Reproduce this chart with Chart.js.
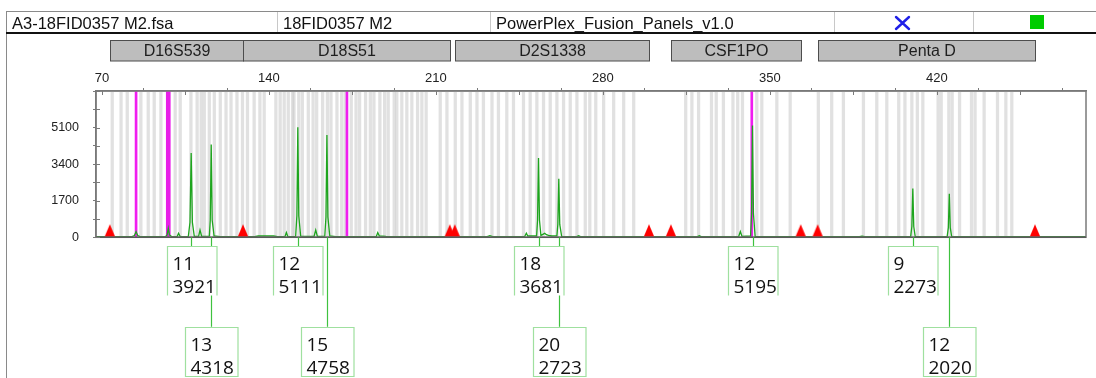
<!DOCTYPE html>
<html>
<head>
<meta charset="utf-8">
<script src="https://cdn.jsdelivr.net/npm/chart.js@4.4.1/dist/chart.umd.min.js"></script>
<style>
  html, body { margin: 0; padding: 0; background: #fff; }
  #wrap { position: relative; width: 1096px; height: 378px; overflow: hidden; }
  #frame { position: absolute; left: 6px; top: 12px; width: 1200px; height: 400px; border-left: 1.5px solid #8a8a8a; }
  #hdr { position: absolute; left: 6px; top: 11px; width: 1200px; height: 20px;
         border-top: 1.5px solid #8a8a8a; border-bottom: 2px solid #111;
         font: 16.5px "Liberation Sans", Arial, sans-serif; color: #111; }
  .cell { position: absolute; top: 0; height: 20px; line-height: 22px; white-space: nowrap; }
  .div { position: absolute; top: 0; height: 20px; width: 1px; background: #c8c8c8; }
  canvas { position: absolute; left: 0; top: 0; }
</style>
</head>
<body>
<div id="wrap">
  <canvas id="egram" width="1096" height="378"></canvas>
  <div id="frame"></div>
  <div id="hdr">
    <div class="cell" style="left:6px">A3-18FID0357 M2.fsa</div>
    <div class="div" style="left:271px"></div>
    <div class="cell" style="left:277px">18FID0357 M2</div>
    <div class="div" style="left:484px"></div>
    <div class="cell" style="left:490px">PowerPlex_Fusion_Panels_v1.0</div>
    <div class="div" style="left:828px"></div>
    <svg style="position:absolute;left:888px;top:3px" width="17" height="16" viewBox="0 0 17 16">
      <path d="M2 2 L15 14 M15 2 L2 14" stroke="#1f1fe8" stroke-width="2.4" stroke-linecap="round"/>
    </svg>
    <div class="div" style="left:967px"></div>
    <div style="position:absolute;left:1024px;top:3px;width:14px;height:14px;background:#00cc00"></div>
  </div>
</div>
<script>
// Loci of the green dye panel (size range in bp)
const locusNames = ['D16S539', 'D18S51', 'D2S1338', 'CSF1PO', 'Penta D'];
const locusStart = [73.3, 129.1, 217.9, 308.5, 370.0];
const locusEnd   = [129.1, 215.8, 299.3, 362.9, 461.1];

// Red locus-boundary markers on the baseline (bp)
const markerBp = [73.3, 129.1, 215.8, 217.9, 299.3, 308.5, 362.9, 370.0, 461.1];

// Allele bins (bp)
const binBp = [
  74.3, 78.0, 80.6, 86.3, 89.4, 91.9, 94.7, 100.7, 102.8, 107.3, 109.9, 111.6, 112.9,
  115.0, 117.1, 119.6, 122.0, 124.1, 126.6, 128.9, 131.0, 133.8, 136.2, 138.0,
  142.9, 144.7, 146.4, 148.1, 149.9, 150.5, 152.5, 154.0, 156.5, 158.5, 160.0, 162.5,
  164.5, 166.0, 168.5, 170.5, 172.0, 174.5, 176.5, 178.0, 180.5, 182.5, 184.0, 186.5,
  188.5, 190.0, 192.5, 193.6, 195.7, 197.8, 199.9, 202.3, 204.1, 205.9,
  211.8, 214.6, 218.1, 220.9, 224.4, 227.2, 229.9, 233.5, 236.2, 239.7, 242.5,
  246.7, 249.5, 252.3, 255.1, 257.9, 260.7, 263.5, 266.3, 269.1, 272.6, 274.5, 277.0,
  280.3, 284.5, 288.7, 292.9, 314.7, 317.3, 320.1, 325.5, 327.5, 330.5, 334.5, 336.5,
  338.5, 344.5, 346.6, 352.9, 358.5, 370.3, 375.9, 380.8, 389.2, 394.8, 399.0, 404.0,
  406.6, 409.5, 411.8, 414.1, 420.5, 421.8, 425.0, 426.4, 429.5, 434.5, 436.0, 439.8,
  445.4, 448.9, 451.4
];

// Off-scale / pull-up flags (bp)
const flagThinBp = [84.3, 172.7, 342.4];
const flagWideBp = [97.8];

// Green dye signal (bp, RFU)
const traceBp = [
  67.5, 72.0, 82.6, 83.6, 84.3, 85.0, 86.0, 96.6, 97.3, 97.8, 98.3, 99.2, 101.5, 102.1, 102.8,
  106.2, 106.9, 107.4, 107.9, 108.7, 110.5, 111.1, 111.8, 115.0, 115.4, 115.8, 116.2, 117.0,
  119.5, 134.0, 135.5, 142.0, 143.5, 146.7, 147.3, 147.9, 151.2, 151.7, 152.1, 152.5, 153.3,
  158.9, 159.6, 160.3, 163.4, 163.9, 164.3, 164.7, 165.5, 168.0, 185.0, 185.6, 186.3, 189.0,
  194.0, 231.5, 232.6, 233.8, 247.2, 247.9, 248.5, 252.2, 252.6, 253.0, 253.4, 254.0, 255.0,
  255.6, 256.3, 257.2, 258.5, 260.7, 261.1, 261.5, 261.9, 262.7, 269.0, 269.8, 270.6, 319.6,
  320.4, 321.2, 336.9, 337.6, 338.3, 341.9, 342.3, 342.7, 343.1, 343.8, 387.5, 388.6, 389.7,
  409.0, 409.5, 409.9, 410.3, 410.9, 424.3, 424.8, 425.2, 425.6, 426.2, 482.5
];
const traceRfu = [
  25, 25, 30, 80, 265, 80, 30, 30, 110, 420, 110, 35, 35, 190, 35,
  40, 700, 3921, 700, 45, 45, 340, 45, 50, 800, 4318, 800, 60,
  30, 30, 60, 60, 30, 30, 220, 35, 45, 1000, 5111, 1000, 50,
  40, 340, 45, 50, 950, 4758, 950, 60, 35, 35, 220, 60, 40,
  30, 30, 80, 30, 40, 190, 60, 60, 800, 3681, 800, 90, 150,
  190, 120, 90, 60, 70, 600, 2723, 600, 40, 30, 70, 30, 30,
  70, 30, 35, 265, 40, 60, 1100, 5195, 1100, 40, 30, 55, 30,
  35, 500, 2273, 500, 35, 35, 450, 2020, 450, 35, 25
];

// Called alleles: name, peak size (bp), height (RFU), label row
const alleleName = ['11', '13', '12', '15', '18', '20', '12', '9', '12'];
const alleleBp   = [107.4, 115.8, 152.1, 164.3, 253.0, 261.5, 342.7, 409.9, 425.2];
const alleleRfu  = [3921, 4318, 5111, 4758, 3681, 2723, 5195, 2273, 2020];
const alleleRow  = [0, 1, 0, 1, 0, 1, 0, 0, 1];

// Axis settings
const X_MIN = 67.5, X_MAX = 482.5, X_STEP = 35, X_LABEL_EVERY = 70;
const Y_MAX = 6800, Y_STEP = 850, Y_LABEL_EVERY = 1700;

// Red triangle glyph sitting on its anchor point
function makeTriangle() {
  const c = document.createElement('canvas');
  c.width = 12; c.height = 28;
  const g = c.getContext('2d');
  g.fillStyle = '#ff0000';
  g.beginPath();
  g.moveTo(6, 1); g.lineTo(11.5, 14); g.lineTo(0.5, 14); g.closePath();
  g.fill();
  return c;
}

const lociPlugin = {
  id: 'loci',
  afterDraw(chart) {
    const ctx = chart.ctx, x = chart.scales.x;
    ctx.save();
    ctx.font = '16px "Liberation Sans", Arial, sans-serif';
    ctx.textAlign = 'center';
    ctx.textBaseline = 'middle';
    locusNames.forEach((name, i) => {
      const x1 = Math.round(x.getPixelForValue(locusStart[i])) + 0.5;
      const x2 = Math.round(x.getPixelForValue(locusEnd[i])) + 0.5;
      ctx.fillStyle = '#bdbdbd';
      ctx.fillRect(x1, 40.5, x2 - x1, 20.5);
      ctx.strokeStyle = '#4d4d4d';
      ctx.lineWidth = 1;
      ctx.strokeRect(x1, 40.5, x2 - x1, 20.5);
      ctx.fillStyle = '#1e1e1e';
      ctx.fillText(name, (x1 + x2) / 2, 51.5);
    });
    ctx.restore();
  }
};

const framePlugin = {
  id: 'frame',
  afterDatasetsDraw(chart) {
    const ctx = chart.ctx, a = chart.chartArea;
    ctx.save();
    ctx.strokeStyle = '#7a7a7a';
    ctx.lineWidth = 1.5;
    ctx.strokeRect(a.left, a.top, a.right - a.left, a.bottom - a.top);
    ctx.strokeStyle = '#5a5a5a';
    ctx.beginPath(); ctx.moveTo(a.left, a.bottom); ctx.lineTo(a.right, a.bottom); ctx.stroke();
    // inner halves of the tick marks
    const x = chart.scales.x, y = chart.scales.y;
    ctx.lineWidth = 1;
    ctx.strokeStyle = '#7a7a7a';
    x.ticks.forEach(t => {
      const px = Math.round(x.getPixelForValue(t.value)) + 0.5;
      ctx.beginPath(); ctx.moveTo(px, a.top); ctx.lineTo(px, a.top + 4); ctx.stroke();
    });
    y.ticks.forEach(t => {
      const py = Math.round(y.getPixelForValue(t.value)) + 0.5;
      ctx.beginPath(); ctx.moveTo(a.left, py); ctx.lineTo(a.left + 4, py); ctx.stroke();
    });
    ctx.restore();
  }
};

const allelePlugin = {
  id: 'alleles',
  afterDraw(chart) {
    const ctx = chart.ctx, x = chart.scales.x, a = chart.chartArea;
    const rowTop = [a.bottom + 9, a.bottom + 89.5];
    const boxH = 49;
    ctx.save();
    // connectors
    ctx.strokeStyle = '#3fc23f';
    ctx.lineWidth = 1.2;
    alleleBp.forEach((bp, i) => {
      const px = Math.round(x.getPixelForValue(bp)) + 0.5;
      ctx.beginPath(); ctx.moveTo(px, a.bottom); ctx.lineTo(px, rowTop[alleleRow[i]]); ctx.stroke();
    });
    // boxes
    alleleBp.forEach((bp, i) => {
      const px = x.getPixelForValue(bp);
      const r = alleleRow[i];
      const left = Math.round(px - (r === 0 ? 24.5 : 26)) + 0.5;
      const w = r === 0 ? 49.5 : 52.5;
      const top = Math.round(rowTop[r]) + 0.5;
      ctx.fillStyle = '#ffffff';
      ctx.fillRect(left, top, w, boxH);
      ctx.strokeStyle = '#9fe09f';
      ctx.lineWidth = 1.2;
      ctx.beginPath();
      ctx.moveTo(left, top + boxH);
      ctx.lineTo(left, top);
      ctx.lineTo(left + w, top);
      ctx.lineTo(left + w, top + boxH);
      if (r === 1) ctx.closePath();
      ctx.stroke();
      ctx.fillStyle = '#111';
      ctx.font = '19px "Open Sans", sans-serif';
      ctx.textAlign = 'left';
      ctx.textBaseline = 'alphabetic';
      ctx.fillText(alleleName[i], left + 5, top + 23.5);
      ctx.fillText(String(alleleRfu[i]), left + 5, top + 46.5);
    });
    ctx.restore();
  }
};

new Chart(document.getElementById('egram'), {
  type: 'bar',
  data: {
    datasets: [
      {
        type: 'bar', label: 'bins', order: 4, grouped: false,
        data: binBp.map(v => ({ x: v, y: Y_MAX })),
        backgroundColor: 'rgba(200,200,200,0.55)', borderWidth: 0, barThickness: 2.6
      },
      {
        type: 'bar', label: 'flags', order: 3, grouped: false,
        data: flagThinBp.map(v => ({ x: v, y: Y_MAX })),
        backgroundColor: '#f01ef0', borderWidth: 0, barThickness: 2
      },
      {
        type: 'bar', label: 'flags wide', order: 3, grouped: false,
        data: flagWideBp.map(v => ({ x: v, y: Y_MAX })),
        backgroundColor: '#e81ee8', borderWidth: 0, barThickness: 4
      },
      {
        type: 'line', label: 'signal', order: 2,
        data: traceBp.map((v, i) => ({ x: v, y: traceRfu[i] })),
        borderColor: '#1ea51e', borderWidth: 1.3, pointRadius: 0, tension: 0, fill: false
      },
      {
        type: 'scatter', label: 'markers', order: 1, clip: false,
        data: markerBp.map(v => ({ x: v, y: 0 })),
        pointStyle: makeTriangle(), pointRadius: 6
      }
    ]
  },
  options: {
    responsive: false,
    animation: false,
    devicePixelRatio: 1,
    layout: { padding: { top: 0, left: 0, right: 10, bottom: 140.7 } },
    plugins: { legend: { display: false }, tooltip: { enabled: false } },
    scales: {
      x: {
        type: 'linear', position: 'top', min: X_MIN, max: X_MAX, offset: false,
        afterFit(s) { s.height = 91; },
        grid: { drawOnChartArea: false, tickLength: 3, color: '#7a7a7a' },
        border: { color: '#7a7a7a', width: 1.5 },
        ticks: {
          stepSize: X_STEP, includeBounds: false, autoSkip: false, maxRotation: 0, padding: 2,
          color: '#222', font: { family: '"Liberation Sans", Arial, sans-serif', size: 13 },
          callback: v => (v % X_LABEL_EVERY === 0 ? String(v) : '')
        }
      },
      y: {
        min: 0, max: Y_MAX,
        afterFit(s) { s.width = 96; },
        grid: { drawOnChartArea: false, tickLength: 3, color: '#7a7a7a' },
        border: { color: '#7a7a7a', width: 1.5 },
        ticks: {
          stepSize: Y_STEP, padding: 14, color: '#222',
          font: { family: '"Liberation Sans", Arial, sans-serif', size: 12.5 },
          callback: v => (v % Y_LABEL_EVERY === 0 && v < Y_MAX ? String(v) : '')
        }
      }
    }
  },
  plugins: [lociPlugin, framePlugin, allelePlugin]
});
</script>
</body>
</html>
